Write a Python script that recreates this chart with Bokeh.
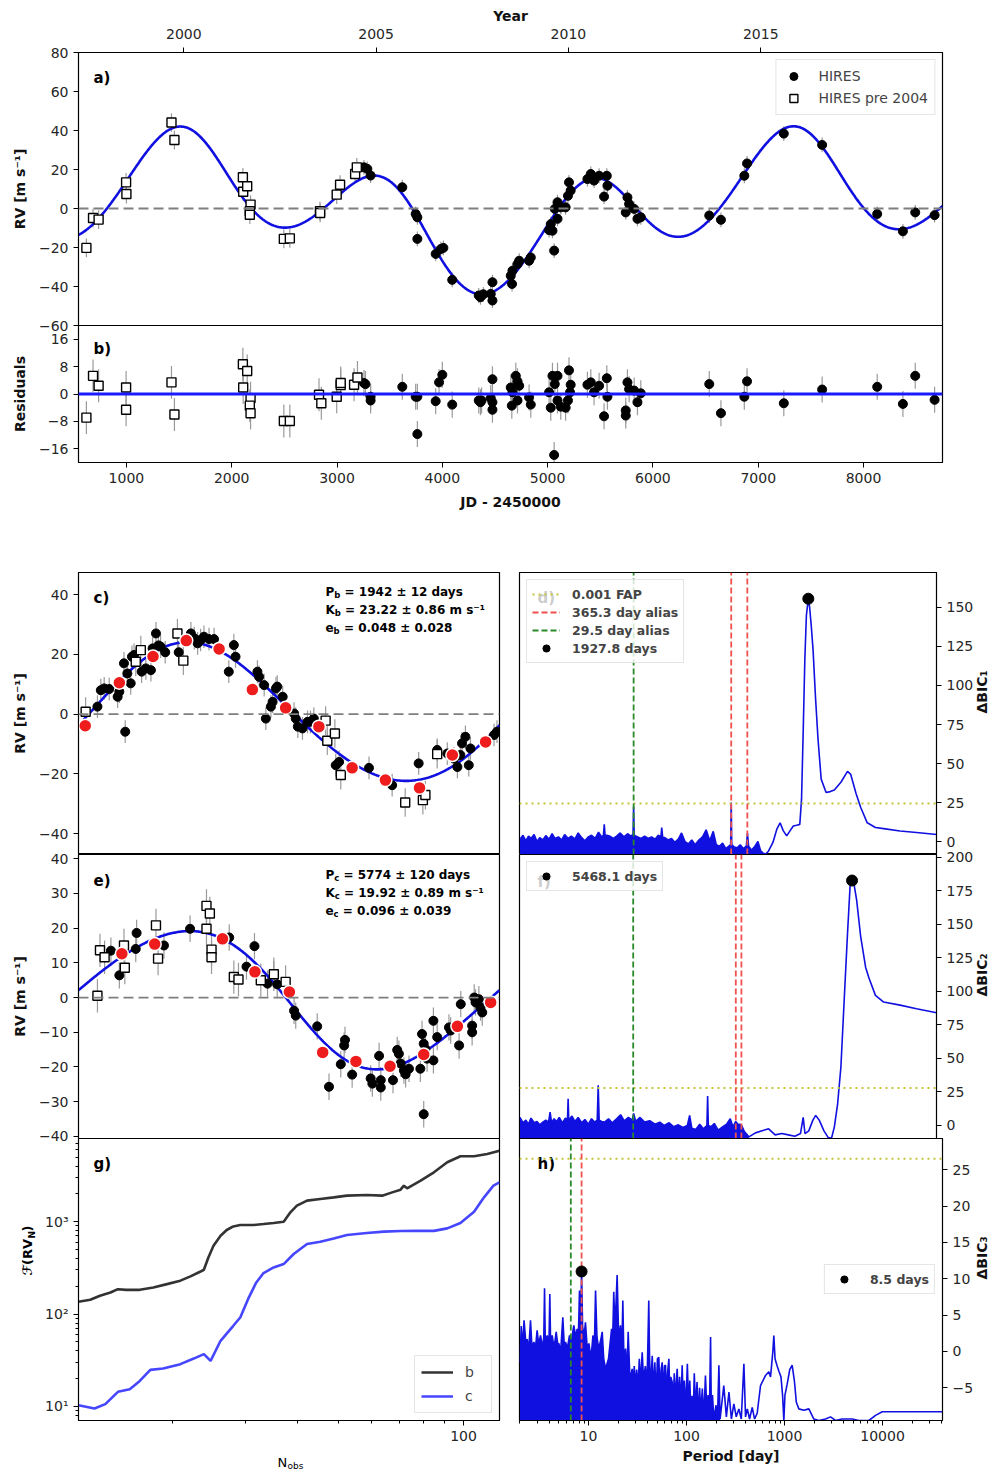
import numpy as np
from bokeh.plotting import figure
from bokeh.layouts import column, row
from bokeh.models import Range1d, LinearAxis, FixedTicker, Label, Span
from bokeh.embed import file_html
from bokeh.resources import INLINE

FONT = "DejaVu Sans"
BLUE = "#1010e0"
ERR_GREY = "#9a9a9a"
ZERO_GREY = "#7f7f7f"
ALIAS_RED = "#f0524f"
ALIAS_GREEN = "#2a8a2a"
FAP_OLIVE = "#c4c43a"
BIN_RED = "#ee1c1c"

# orbital elements quoted in panels c and e
P_B, K_B, E_B = 1942.0, 23.22, 0.048
P_C, K_C, E_C = 5774.0, 19.92, 0.096
# argument of periastron [deg] and time of periastron (JD - 2450000) of the two-planet model
OMEGA_B, TP_B = 45.0, 1725.0
OMEGA_C, TP_C = 150.0, 3990.0
# shape of the folded curves: argument of periastron [deg] and periastron phase
OMEGA_B_FOLD, PHASE_B_PERI = 321.0, 0.16
OMEGA_C_FOLD, PHASE_C_PERI = 114.0, 0.5525
ERR_PRE, ERR_HIRES = 4.8, 3.8

# ---------------- panel a: radial velocities (JD - 2450000, m/s)
pre_jd = [620, 683, 736, 997, 1000, 1428, 1456, 2106, 2109, 2147, 2179, 2172, 2172, 2495, 2552, 2838, 2840, 2997, 3029, 3172, 3188]
pre_rv = [-20.2, -4.9, -5.7, 13.4, 7.4, 44.1, 35.1, 16.0, 8.6, 11.4, 2.0, -1.4, -3.2, -15.6, -15.3, -1.4, -2.3, 7.1, 12.2, 17.7, 21.1]
hires_jd = [3256, 3288, 3319, 3620, 3747, 3763, 3763, 3937, 3985, 4010, 4094, 4346, 4362, 4460, 4476,
            4476, 4390, 4650, 4662, 4666, 4714, 4730, 4824, 4840, 5014, 5030, 5046, 5062, 5068, 5094,
            5094, 5125, 5171, 5193, 5203, 5219, 5378, 5410, 5441, 5489, 5562, 5568, 5536, 5758, 5742,
            5774, 5822, 5853, 5885, 6535, 6646, 6868, 6894, 7243, 7607, 8130, 8374, 8491, 8675]
hires_rv = [21.1, 20.3, 16.9, 10.9, -2.8, -4.5, -15.6, -23.3, -20.8, -20.2, -36.6, -44.6, -45.5, -43.8, -37.8,
            -47.2, -44.0, -34.5, -38.7, -31.9, -28.5, -26.8, -26.8, -25.1, -11.1, -8.0, -11.4, -21.6, -0.2, 3.2,
            -5.3, 0.6, 0.6, 6.5, 13.4, 9.2, 15.1, 17.7, 14.3, 16.8, 16.8, 11.7, 6.1, 5.7, -2.0,
            2.3, -0.2, -5.3, -4.5, -3.6, -5.8, 16.8, 23.1, 38.4, 32.6, -2.8, -11.7, -2.0, -3.4]

# ---------------- panel b: residuals
res_pre_jd = [620, 683, 736, 997, 997, 1428, 1456, 2106, 2147, 2109, 2179, 2172, 2179, 2495, 2552, 2829, 2851, 2997, 3035, 3035, 3162, 3194]
res_pre = [-6.9, 5.3, 2.4, 1.9, -4.6, 3.4, -6.0, 8.7, 6.7, 1.9, -1.2, -3.4, -5.6, -7.9, -7.9, -0.2, -2.7, -0.8, 2.6, 3.2, 2.7, 4.8]
res_hires_jd = [3256, 3270, 3319, 3319, 3620, 3747, 3763, 3763, 3937, 3969, 4000, 4094, 4346, 4362, 4476,
                4476, 4460, 4373, 4476, 4650, 4660, 4666, 4698, 4714, 4714, 4730, 4824, 4840, 5014, 5030,
                5046, 5062, 5068, 5094, 5094, 5125, 5171, 5193, 5203, 5219, 5213, 5378, 5410, 5441, 5489,
                5562, 5568, 5536, 5758, 5742, 5742, 5774, 5822, 5853, 5885, 6535, 6646, 6868, 6894, 7243,
                7607, 8130, 8374, 8491, 8675]
res_hires = [3.2, 2.9, -0.8, -1.9, 2.1, -0.8, -0.8, -11.7, -2.1, 3.4, 5.6, -3.1, -1.9, -2.4, 4.3,
             -4.6, -1.2, -1.9, -2.4, 1.9, -3.4, 0.5, 5.3, 3.7, -1.9, 2.4, -1.0, -3.1, 0.5, -4.0,
             5.3, -17.8, 2.9, 5.3, -1.9, -3.7, -4.0, -1.9, 6.9, 2.7, 0.5, 2.7, 3.4, 0.5, 2.4,
             4.6, -0.8, -6.5, 3.4, -4.8, -6.3, 1.4, 1.0, -2.4, 0.2, 2.9, -5.6, -0.8, 3.7, -2.7,
             1.3, 2.1, -2.9, 5.3, -1.7]

# ---------------- panel c: planet b, phase folded
c_hires_phase = [0.045, 0.053, 0.061, 0.073, 0.093, 0.097, 0.111, 0.108, 0.116, 0.124, 0.127, 0.132, 0.150, 0.160, 0.172,
                 0.176, 0.184, 0.190, 0.195, 0.206, 0.238, 0.267, 0.275, 0.283, 0.290, 0.298, 0.310, 0.322, 0.357, 0.369,
                 0.373, 0.425, 0.429, 0.441, 0.445, 0.457, 0.461, 0.469, 0.472, 0.485, 0.512, 0.516, 0.521, 0.532, 0.544,
                 0.551, 0.559, 0.611, 0.619, 0.690, 0.745, 0.808, 0.852, 0.876, 0.892, 0.900, 0.907, 0.911, 0.919, 0.927,
                 0.931, 0.987, 0.994]
c_hires_rv = [2.5, 8.0, 8.6, 8.4, 5.8, 7.5, -5.9, 17.0, 13.6, 10.3, 19.2, 19.8, 14.2, 15.3, 14.7,
              22.0, 27.0, 23.0, 22.6, 20.7, 20.7, 27.0, 25.4, 23.7, 24.8, 25.9, 25.1, 25.1, 14.2, 23.1,
              19.2, 14.2, 12.5, 9.7, -1.5, 2.5, 4.1, 8.6, 9.2, 5.8, 0.2, -1.5, -4.2, -4.8, -2.6,
              -2.6, -1.5, -17.1, -16.0, -18.0, -23.8, -16.5, -12.0, -13.2, -14.9, -17.7, -13.7, -9.8, -7.6, -17.1,
              -11.5, -7.0, -5.9]
c_pre_phase = [0.017, 0.136, 0.148, 0.235, 0.249, 0.587, 0.591, 0.609, 0.623, 0.776, 0.818, 0.824, 0.852]
c_pre_rv = [0.8, 17.5, 21.4, 27.0, 17.9, -2.2, -8.9, -6.5, -20.4, -29.6, -28.8, -27.1, -13.4]
c_bin_phase = [0.016, 0.097, 0.177, 0.256, 0.334, 0.413, 0.492, 0.571, 0.650, 0.729, 0.810, 0.888, 0.967]
c_bin_rv = [-3.9, 10.5, 19.3, 24.6, 21.8, 8.2, 2.1, -4.2, -18.0, -22.1, -24.7, -13.7, -9.3]

# ---------------- panel e: planet c, phase folded
e_hires_phase = [0.077, 0.097, 0.138, 0.136, 0.203, 0.265, 0.358, 0.418, 0.399, 0.449, 0.464, 0.472, 0.512, 0.516, 0.567,
                 0.595, 0.623, 0.631, 0.633, 0.650, 0.694, 0.698, 0.714, 0.718, 0.718, 0.747, 0.757, 0.761, 0.765, 0.773,
                 0.777, 0.785, 0.812, 0.816, 0.820, 0.824, 0.828, 0.843, 0.843, 0.820, 0.852, 0.880, 0.884, 0.904, 0.908,
                 0.935, 0.935, 0.940, 0.943, 0.951, 0.959, 0.955]
e_hires_rv = [13.5, 6.4, 18.6, 14.0, 15.0, 19.8, 17.3, 14.8, 8.9, 4.0, 6.7, 3.8, -3.8, -5.2, -8.3,
              -25.7, -19.2, -13.8, -12.2, -22.2, -23.3, -24.8, -16.8, -25.9, -23.8, -23.8, -15.1, -16.2, -19.0, -21.0,
              -22.1, -20.5, -20.5, -10.5, -13.3, -14.8, -17.6, -18.1, -6.7, -33.6, -11.4, -8.6, -9.5, -13.8, -1.9,
              -8.1, -10.0, 0.0, -1.4, -0.5, -4.3, -2.9]
e_pre_phase = [0.045, 0.051, 0.062, 0.108, 0.110, 0.184, 0.189, 0.304, 0.312, 0.304, 0.316, 0.316, 0.369, 0.380, 0.433, 0.464, 0.492]
e_pre_rv = [0.5, 13.6, 11.6, 15.0, 8.6, 20.8, 11.2, 26.4, 24.2, 19.8, 13.8, 11.6, 5.9, 5.2, 5.0, 6.7, 4.5]
e_bin_phase = [0.103, 0.181, 0.342, 0.419, 0.501, 0.580, 0.659, 0.740, 0.820, 0.900, 0.979]
e_bin_rv = [12.6, 15.4, 16.9, 7.4, 1.6, -15.8, -18.4, -19.8, -16.4, -8.3, -1.4]

# ---------------- panels d, f, h: BIC periodograms (period [day], delta BIC)
d_noise = [(2.0, 1.5), (2.15, 4.0), (2.3, 0.5), (2.45, 3.5), (2.6, 2.0), (2.8, 4.5), (3.0, 0.0), (3.2, 2.5),
           (3.45, 1.0), (3.7, 3.8), (4.0, 1.5), (4.3, 5.0), (4.6, 2.0), (5.0, 3.0), (5.4, 1.0), (5.8, 4.5),
           (6.3, 2.0), (6.8, 3.5), (7.4, 1.5), (8.0, 5.5), (8.7, 2.5), (9.4, 0.5), (10.2, 3.0), (11.0, 4.0),
           (12.0, 2.0), (13.0, 6.0), (14.0, 3.0), (14.6, 4.0), (14.9, 11.0), (15.2, 4.0), (15.8, 4.0), (17.0, 3.5),
           (18.5, 2.0), (20.0, 3.5), (21.8, 5.5), (23.8, 3.0), (26.0, 5.0), (28.0, 3.5), (29.6, 4.5), (30.0, 22.5),
           (30.4, 4.0), (33.0, 3.0), (36.0, 2.0), (39.0, 3.5), (42.5, 2.0), (46.0, 3.0), (50.0, 1.5), (54.0, 4.0),
           (57.5, 3.0), (58.6, 9.0), (60.0, 2.5), (63.0, 2.5), (68.0, 1.0), (74.0, 2.0), (80.0, -0.5), (87.0, 1.5),
           (94.0, 5.5), (102.0, 0.0), (111.0, -1.5), (120.0, 1.0), (130.0, -2.0), (142.0, 1.0), (155.0, 3.0),
           (169.0, 7.5), (184.0, 0.5), (200.0, 6.5), (215.0, -2.0), (232.0, -3.0), (250.0, -1.0), (270.0, -4.5),
           (290.0, -3.0), (303.0, -2.0), (307.0, 25.0), (311.0, -2.0), (330.0, -3.5), (355.0, -4.0), (380.0, -2.0),
           (410.0, -4.5), (440.0, -3.0), (452.0, 5.5), (465.0, -3.0), (500.0, -5.5), (540.0, -3.0), (580.0, 0.0),
           (620.0, -6.0), (660.0, -7.5)]
d_smooth = [(660.0, -7.5), (700.0, -8.0), (748.0, -6.0), (830.0, -0.6), (910.0, 7.9), (984.0, 12.0), (1060.0, 7.0),
            (1151.0, 3.6), (1250.0, 7.0), (1349.0, 10.0), (1460.0, 10.5), (1574.0, 11.0), (1640.0, 27.0),
            (1706.0, 70.0), (1775.0, 117.0), (1842.0, 145.0), (1927.8, 155.6), (1990.0, 150.0), (2070.0, 138.0),
            (2158.0, 123.0), (2290.0, 92.0), (2427.0, 66.0), (2619.0, 40.0), (2946.0, 31.4), (3250.0, 32.0),
            (3583.0, 33.0), (4191.0, 38.0), (4906.0, 45.0), (5300.0, 43.0), (6000.0, 31.0), (6709.0, 22.0),
            (7850.0, 12.0), (9546.0, 9.0), (11600.0, 8.3), (17170.0, 6.8), (25410.0, 5.8), (41000.0, 4.5)]
f_noise = [(2.0, 6.0), (2.15, 2.0), (2.3, 4.0), (2.45, 1.0), (2.6, 5.5), (2.8, 2.0), (3.0, 3.0), (3.2, 0.5),
           (3.45, 2.5), (3.7, 4.0), (3.95, 2.5), (4.1, 10.0), (4.25, 2.0), (4.5, 5.0), (4.8, 3.0), (5.1, 6.0),
           (5.5, 2.0), (5.9, 5.5), (6.2, 4.0), (6.3, 20.0), (6.4, 4.0), (6.9, 7.0), (7.4, 3.0), (8.0, 6.0),
           (8.7, 2.0), (9.4, 4.5), (10.2, 1.0), (11.0, 5.0), (11.8, 2.5), (12.6, 4.0), (12.9, 30.0), (13.2, 4.0),
           (14.0, 3.0), (15.0, 2.5), (16.5, 5.0), (18.0, 2.0), (20.0, 5.0), (22.0, 8.0), (24.0, 3.5), (26.5, 6.0),
           (29.0, 4.0), (30.0, 9.0), (31.5, 3.0), (35.0, 6.0), (39.0, 2.5), (44.0, 3.5), (50.0, 1.0), (56.0, 2.5),
           (62.0, 0.0), (70.0, 2.0), (78.0, -1.0), (87.0, 0.5), (97.0, -1.5), (108.0, 0.0), (114.0, 7.5),
           (120.0, -2.0), (132.0, -3.0), (145.0, 1.0), (158.0, -2.5), (172.0, 0.0), (175.0, 22.0), (178.0, 0.0),
           (190.0, -1.0), (205.0, 1.5), (225.0, -3.5), (250.0, -1.0), (275.0, 1.0), (300.0, 5.0), (320.0, -1.0),
           (342.0, 3.0), (360.0, 1.0), (391.0, 0.5), (420.0, -4.5), (468.0, -8.5)]
f_smooth = [(468.0, -8.5), (547.0, -5.5), (640.0, -4.0), (748.0, -2.5), (875.0, -7.0), (1023.0, -6.0),
            (1197.0, -7.0), (1400.0, -8.0), (1600.0, -6.0), (1706.0, 6.0), (1780.0, -6.0), (1950.0, -4.0),
            (2150.0, 4.0), (2300.0, 7.5), (2500.0, 4.0), (2800.0, -4.0), (3100.0, -9.0), (3350.0, -9.5),
            (3583.0, -1.2), (3875.0, 16.0), (4191.0, 43.6), (4530.0, 93.0), (4906.0, 143.0), (5212.0, 178.0),
            (5468.1, 182.6), (5728.0, 180.0), (6100.0, 168.0), (6709.0, 141.0), (7550.0, 118.0), (8180.0, 110.0),
            (9546.0, 97.0), (11600.0, 92.0), (17170.0, 89.7), (25410.0, 87.0), (41000.0, 84.0)]
h_noise = [(2.0, -1.5), (2.06, 3.5), (2.13, 0.5), (2.2, 4.3), (2.3, 1.0), (2.37, 1.7), (2.45, 0.0), (2.56, 4.3),
           (2.65, 0.5), (2.77, 1.3), (2.88, 0.5), (2.99, 2.9), (3.1, 1.0), (3.24, 2.2), (3.4, 0.5), (3.5, 2.0),
           (3.56, 8.7), (3.62, 1.5), (3.79, 2.2), (3.95, 1.0), (4.03, 7.9), (4.1, 1.5), (4.26, 2.2), (4.45, 0.5),
           (4.68, 2.7), (4.85, 1.0), (4.98, 1.1), (5.2, 0.0), (5.47, 4.7), (5.65, 1.0), (5.82, 1.3), (6.1, 0.5),
           (6.4, 2.2), (6.7, 1.5), (7.08, 3.6), (7.4, 2.0), (7.66, 3.1), (7.9, 2.5), (8.09, 8.4), (8.3, 3.0),
           (8.5, 11.0), (8.7, 3.5), (9.0, 2.0), (9.31, 4.0), (9.7, 0.5), (10.1, 1.1), (10.6, -1.0), (11.1, 2.2),
           (11.5, 1.0), (11.8, 8.4), (12.2, 2.0), (12.7, 0.4), (13.3, 1.5), (13.8, 2.7), (14.3, -1.0), (14.9, -2.4),
           (16.0, -1.0), (17.2, 3.1), (17.6, 1.0), (18.1, 8.2), (18.6, 3.0), (19.6, 10.5), (20.3, 2.0), (21.2, 3.6),
           (21.8, -1.0), (22.4, 7.0), (23.0, -1.5), (23.9, 0.4), (24.7, -3.0), (25.4, 2.7), (26.5, -4.0), (27.9, -2.4),
           (28.6, -4.5), (29.3, -2.0), (30.0, -4.8), (31.0, -2.5), (32.0, -5.0), (33.0, -1.0), (34.0, -4.5),
           (35.3, -0.1), (36.5, -4.0), (38.0, -2.0), (39.5, -4.5), (40.5, 2.0), (41.2, 7.0), (42.0, -1.0),
           (43.0, -5.0), (44.7, -0.6), (46.0, -5.5), (47.5, -1.5), (49.0, -6.0), (50.5, -1.0), (52.2, -0.8),
           (53.5, -6.0), (55.0, -2.5), (56.5, -1.5), (58.0, -6.5), (59.5, -2.0), (61.1, -1.9), (62.5, -7.0),
           (64.0, -3.0), (66.1, -1.0), (67.5, -6.5), (69.0, -3.5), (71.4, -4.2), (73.0, -7.5), (75.0, -3.0),
           (77.0, -6.5), (80.3, -2.4), (82.5, -7.0), (85.0, -3.5), (87.5, -7.5), (90.3, -1.9), (92.5, -7.0),
           (95.0, -4.0), (98.0, -8.0), (102.0, -1.7), (105.0, -7.5), (108.0, -4.0), (111.0, -8.5), (114.0, -6.1),
           (117.0, -9.0), (120.0, -3.0), (124.0, -8.0), (128.0, -4.2), (132.0, -9.0), (136.0, -5.0), (140.0, -8.5),
           (145.0, -5.1), (150.0, -9.3), (156.0, -3.3), (161.0, -8.0), (166.0, -6.0), (171.0, -9.3), (176.0, 2.0),
           (179.0, -8.0), (184.0, -6.0), (190.0, -9.3), (200.0, -7.4), (207.0, -9.3), (214.0, -1.9), (220.0, -9.3)]
h_tail = [(220.0, -9.3), (240.0, -4.7), (255.0, -9.0), (271.0, -5.6), (287.0, -9.3), (304.0, -7.2), (322.0, -9.0),
          (342.0, -7.9), (362.0, -9.3), (385.0, -1.7), (400.0, -9.0), (417.0, -7.9), (440.0, -9.3), (468.0, -7.7),
          (495.0, -9.3), (526.0, -8.5), (569.0, -4.7), (640.0, -3.3), (692.0, -2.8), (720.0, -3.5), (760.0, 0.0),
          (778.0, 2.2), (800.0, -1.0), (841.0, -2.0), (880.0, -2.8), (920.0, -3.5), (955.0, -6.0), (984.0, -9.5),
          (1010.0, -6.0), (1064.0, -4.5), (1130.0, -2.5), (1197.0, -1.9), (1260.0, -4.0), (1320.0, -7.0),
          (1400.0, -7.9), (1574.0, -8.1), (1771.0, -7.9), (1991.0, -9.3), (2240.0, -9.5), (2619.0, -9.3),
          (2946.0, -9.0), (3313.0, -9.5), (3873.0, -9.3), (4906.0, -9.3), (5728.0, -9.5), (7261.0, -9.5),
          (8486.0, -8.8), (9930.0, -8.3), (17170.0, -8.3), (41000.0, -8.3)]

d_fap, f_fap, h_fap = 24.4, 27.9, 26.5
d_red, d_green = [307.0, 450.6], [30.0]
f_red, f_green = [342.4, 391.4], [29.7]
h_red, h_green = [8.5], [6.6]
d_peak, f_peak, h_peak = (1927.8, 155.6), (5468.1, 182.6), (8.5, 11.0)

# ---------------- panel g: significance versus number of observations
g_n_b = [11.9, 12.7, 13.4, 14.2, 14.8, 15.5, 16.7, 18.0, 19.4, 20.9, 22.1, 23.3, 23.8, 24.4, 25.1, 26.1, 27.0, 28.0,
         29.1, 31.3, 33.1, 35.0, 37.0, 38.4, 39.8, 42.1, 45.3, 48.8, 52.5, 58.6, 63.8, 67.4, 70.6, 71.9, 73.2, 78.9,
         84.9, 91.4, 98.3, 106, 114, 122]
g_f_b = [136, 143, 158, 171, 186, 183, 183, 194, 211, 230, 256, 287, 302, 410, 550, 705, 813, 889, 921, 921, 944, 968,
         1000, 1262, 1490, 1690, 1762, 1834, 1913, 1945, 1913, 2076, 2221, 2455, 2295, 2780, 3426, 4399, 5106, 5106,
         5409, 5875]
g_n_c = [11.9, 13.0, 13.8, 14.2, 14.8, 15.8, 16.7, 17.7, 19.0, 20.9, 22.5, 23.8, 24.7, 26.1, 28.0, 29.1, 30.4, 31.8,
         33.1, 35.0, 37.0, 39.1, 42.1, 45.3, 48.8, 52.5, 58.6, 64.4, 70.6, 77.3, 84.9, 91.4, 98.3, 106, 112, 118, 122]
g_f_c = [10.3, 9.5, 10.6, 12.0, 14.4, 15.4, 18.9, 24.9, 25.8, 28.7, 33.0, 36.9, 31.2, 51.4, 74.7, 91.8, 146, 220, 278,
         320, 348, 447, 573, 607, 659, 717, 755, 780, 793, 795, 795, 846, 968, 1283, 1834, 2455, 2667]

YEAR_TICKS = [2000, 2005, 2010, 2015]
JD_LO, JD_HI = 545.0, 8750.0


def kepler_rv(t, period, k, ecc, omega_deg, tp):
    """Radial velocity of a Keplerian orbit."""
    omega = np.radians(omega_deg)
    m = 2 * np.pi * (np.asarray(t, dtype=float) - tp) / period
    ea = np.array(m, dtype=float)
    for _ in range(40):
        ea = m + ecc * np.sin(ea)
    nu = 2 * np.arctan2(np.sqrt(1 + ecc) * np.sin(ea / 2), np.sqrt(1 - ecc) * np.cos(ea / 2))
    return k * (np.cos(nu + omega) + ecc * np.cos(omega))


def jd_to_year(jd):
    return 2000.0 + (jd - 1545.0) / 365.25


def style_axis(ax):
    ax.major_label_text_font = FONT
    ax.major_label_text_font_size = "14px"
    ax.major_label_text_color = "#262626"
    ax.axis_label_text_font = FONT
    ax.axis_label_text_font_size = "14px"
    ax.axis_label_text_font_style = "bold"
    ax.axis_label_text_color = "#111111"
    ax.axis_line_color = "black"
    ax.major_tick_line_color = "black"
    ax.major_tick_out = 5
    ax.major_tick_in = 0
    ax.minor_tick_out = 3
    ax.minor_tick_in = 0
    ax.major_label_standoff = 5
    ax.axis_label_standoff = 8


def make_fig(width, height, x_range, y_range, borders, x_loc=None, y_loc="left", x_type="linear", y_type="linear"):
    p = figure(width=width, height=height, x_range=x_range, y_range=y_range,
               x_axis_type=x_type, y_axis_type=y_type, x_axis_location=x_loc, y_axis_location=y_loc,
               output_backend="svg", toolbar_location=None,
               min_border_left=borders[0], min_border_right=borders[1],
               min_border_top=borders[2], min_border_bottom=borders[3])
    p.outline_line_color = "black"
    p.outline_line_width = 1.2
    p.outline_line_alpha = 1.0
    p.grid.visible = False
    p.background_fill_color = "white"
    p.border_fill_color = "white"
    for ax in p.axis:
        style_axis(ax)
        ax.minor_tick_line_color = None
    return p


def text_fig(width, height):
    """A transparent strip whose whole area is the frame, used for composite axis titles."""
    p = figure(width=width, height=height, x_range=Range1d(0, width), y_range=Range1d(0, height),
               x_axis_location=None, y_axis_location=None, output_backend="svg", toolbar_location=None,
               min_border_left=0, min_border_right=0, min_border_top=0, min_border_bottom=0)
    p.outline_line_color = None
    p.grid.visible = False
    p.background_fill_alpha = 0
    p.border_fill_alpha = 0
    return p


def tag(p, text, x, y, size="15px", bold=True, level="annotation", angle=0.0, color="black"):
    p.add_layout(Label(x=x, y=y, x_units="screen", y_units="screen", text=text, text_font=FONT,
                       text_font_size=size, text_font_style="bold" if bold else "normal",
                       text_baseline="middle", text_align="left", angle=angle, text_color=color, level=level))


def param_block(p, sub, rows, x0, y0, dy=18):
    sym_w = {"P": 8.8, "K": 9.3, "e": 8.1}
    sub_w = {"b": 6.1, "c": 5.0}
    for i, (sym, rest) in enumerate(rows):
        y = y0 - i * dy
        tag(p, sym, x0, y, size="12px")
        tag(p, sub, x0 + sym_w[sym], y - 3, size="8.5px")
        tag(p, rest, x0 + sym_w[sym] + sub_w[sub] + 4.2, y, size="12px")


def errorbars(p, x, y, err):
    y = np.asarray(y, float)
    p.segment(x0=x, y0=y - err, x1=x, y1=y + err, line_color=ERR_GREY, line_width=1.2)


def points(p, x, y, square=False, legend=None):
    kw = {} if legend is None else {"legend_label": legend}
    if square:
        p.scatter(x, y, marker="square", size=9, fill_color="white", line_color="black", line_width=1.4, **kw)
    else:
        p.scatter(x, y, marker="circle", size=9, fill_color="black", line_color="black", **kw)


def zero_line(p, color=ZERO_GREY, width=1.8, dash="10 5"):
    p.add_layout(Span(location=0, dimension="width", line_color=color, line_width=width, line_dash=dash))


# ---------------- a) RV time series with two-planet model
jd_range = Range1d(JD_LO, JD_HI)
pa = make_fig(1001, 333, jd_range, Range1d(-60, 80), (78, 59, 52, 8))
pa.extra_x_ranges = {"year": Range1d(jd_to_year(JD_LO), jd_to_year(JD_HI))}
year_axis = LinearAxis(x_range_name="year", ticker=FixedTicker(ticks=YEAR_TICKS), axis_label="Year")
style_axis(year_axis)
year_axis.minor_tick_line_color = None
year_axis.major_label_standoff = 9
year_axis.axis_label_standoff = 2
pa.add_layout(year_axis, "above")
pa.yaxis.ticker = FixedTicker(ticks=[-60, -40, -20, 0, 20, 40, 60, 80])
pa.yaxis.axis_label = "RV [m s⁻¹]"
zero_line(pa)
t_model = np.linspace(JD_LO, JD_HI, 1200)
rv_model = kepler_rv(t_model, P_B, K_B, E_B, OMEGA_B, TP_B) + kepler_rv(t_model, P_C, K_C, E_C, OMEGA_C, TP_C)
errorbars(pa, pre_jd, pre_rv, ERR_PRE)
errorbars(pa, hires_jd, hires_rv, ERR_HIRES)
pa.line(t_model, rv_model, line_color=BLUE, line_width=2.6)
points(pa, hires_jd, hires_rv, legend="HIRES")
points(pa, pre_jd, pre_rv, square=True, legend="HIRES pre 2004")
pa.legend.location = "top_right"
pa.legend.label_text_font = FONT
pa.legend.label_text_font_size = "14px"
pa.legend.border_line_color = "#cccccc"
pa.legend.background_fill_alpha = 0.85
pa.legend.margin = 7
pa.legend.padding = 6
pa.legend.spacing = 2
pa.legend.glyph_width = 22
pa.legend.label_standoff = 14
tag(pa, "a)", 15, 248)

# ---------------- b) residuals (slides 8 px up under the bottom border of a)
pb = make_fig(1001, 247, jd_range, Range1d(-20, 20), (78, 59, 0, 110), x_loc="below")
pb.margin = (-8, 0, 0, 0)
pb.border_fill_alpha = 0
pb.xaxis.ticker = FixedTicker(ticks=[1000, 2000, 3000, 4000, 5000, 6000, 7000, 8000])
pb.xaxis.axis_label = "JD - 2450000"
pb.yaxis.ticker = FixedTicker(ticks=[-16, -8, 0, 8, 16])
pb.yaxis.axis_label = "Residuals"
zero_line(pb, color="#1a1aff", width=3.0, dash="solid")
errorbars(pb, res_pre_jd, res_pre, ERR_PRE)
errorbars(pb, res_hires_jd, res_hires, ERR_HIRES)
points(pb, res_hires_jd, res_hires)
points(pb, res_pre_jd, res_pre, square=True)
tag(pb, "b)", 15, 114)

# ---------------- c) planet b folded
phase = np.linspace(0, 1, 400)
pc = make_fig(509, 282, Range1d(0, 1), Range1d(-47.0, 47.4), (78, 10, 0, 0))
pc.yaxis.ticker = FixedTicker(ticks=[-40, -20, 0, 20, 40])
pc.yaxis.axis_label = "RV [m s⁻¹]"
zero_line(pc)
errorbars(pc, c_hires_phase, c_hires_rv, ERR_HIRES)
errorbars(pc, c_pre_phase, c_pre_rv, ERR_PRE)
pc.line(phase, kepler_rv(phase * P_B, P_B, K_B, E_B, OMEGA_B_FOLD, PHASE_B_PERI * P_B), line_color=BLUE, line_width=2.6)
points(pc, c_hires_phase, c_hires_rv)
points(pc, c_pre_phase, c_pre_rv, square=True)
pc.scatter(c_bin_phase, c_bin_rv, marker="circle", size=13, fill_color=BIN_RED, line_color="white", line_width=1.5)
tag(pc, "c)", 15, 257)
param_block(pc, "b", [("P", "= 1942 ± 12 days"), ("K", "= 23.22 ± 0.86 m s⁻¹"), ("e", "= 0.048 ± 0.028")], 247, 263)

# ---------------- e) planet c folded (transparent 8 px borders overlap the rows above and below)
pe = make_fig(509, 300, Range1d(0, 1), Range1d(-40.6, 41.2), (78, 10, 8, 8))
pe.border_fill_alpha = 0
pe.yaxis.ticker = FixedTicker(ticks=[-40, -30, -20, -10, 0, 10, 20, 30, 40])
pe.yaxis.axis_label = "RV [m s⁻¹]"
zero_line(pe)
errorbars(pe, e_hires_phase, e_hires_rv, ERR_HIRES)
errorbars(pe, e_pre_phase, e_pre_rv, ERR_PRE)
pe.line(phase, kepler_rv(phase * P_C, P_C, K_C, E_C, OMEGA_C_FOLD, PHASE_C_PERI * P_C), line_color=BLUE, line_width=2.6)
points(pe, e_hires_phase, e_hires_rv)
points(pe, e_pre_phase, e_pre_rv, square=True)
pe.scatter(e_bin_phase, e_bin_rv, marker="circle", size=13, fill_color=BIN_RED, line_color="white", line_width=1.5)
tag(pe, "e)", 15, 258)
param_block(pe, "c", [("P", "= 5774 ± 120 days"), ("K", "= 19.92 ± 0.89 m s⁻¹"), ("e", "= 0.096 ± 0.039")], 247, 264)

# ---------------- periodograms
per_range = Range1d(1.977, 40900.0)


def periodogram(p, noise, rest, fap, reds, greens, peak, peak_text, tag_text, with_alias_legend, legend_loc):
    tag(p, tag_text, 18, 257, level="underlay")
    y_lo, y_hi = p.y_range.start, p.y_range.end
    nx = [q for q, _ in noise]
    ny = [v for _, v in noise]
    p.varea(x=nx, y1=[y_lo] * len(nx), y2=ny, fill_color=BLUE)
    p.line(nx + [q for q, _ in rest[1:]], ny + [v for _, v in rest[1:]], line_color=BLUE, line_width=1.6)

    def lab(text):
        return {"legend_label": text} if with_alias_legend else {}

    p.line([per_range.start, per_range.end], [fap, fap], line_color=FAP_OLIVE, line_width=2, line_dash="2 4",
           **lab("0.001 FAP"))
    p.multi_line([[x, x] for x in reds], [[y_lo, y_hi]] * len(reds), line_color=ALIAS_RED, line_width=1.8,
                 line_dash="6 3", **lab("365.3 day alias"))
    p.multi_line([[x, x] for x in greens], [[y_lo, y_hi]] * len(greens), line_color=ALIAS_GREEN, line_width=1.8,
                 line_dash="6 3", **lab("29.5 day alias"))
    p.scatter([peak[0]], [peak[1]], marker="circle", size=11, color="black", legend_label=peak_text)
    lg = p.legend[0]
    lg.location = legend_loc
    lg.label_text_font = FONT
    lg.label_text_font_size = "12.5px"
    lg.label_text_font_style = "bold"
    lg.border_line_color = "#cccccc"
    lg.background_fill_alpha = 0.8
    lg.margin = 7
    lg.padding = 5
    lg.spacing = 0
    lg.glyph_width = 28
    lg.glyph_height = 18
    lg.label_standoff = 12


pd_ = make_fig(492, 282, per_range, Range1d(-8.3, 172.4), (10, 59, 0, 0), y_loc="right", x_type="log")
pd_.yaxis.ticker = FixedTicker(ticks=[0, 25, 50, 75, 100, 125, 150])
pd_.yaxis.axis_label = "ΔBIC₁"
periodogram(pd_, d_noise, d_smooth, d_fap, d_red, d_green, d_peak, "1927.8 days", "d)", True, "top_left")

pf = make_fig(492, 300, per_range, Range1d(-9.7, 202.0), (10, 59, 8, 8), y_loc="right", x_type="log")
pf.border_fill_alpha = 0
pf.yaxis.ticker = FixedTicker(ticks=[0, 25, 50, 75, 100, 125, 150, 175, 200])
pf.yaxis.axis_label = "ΔBIC₂"
periodogram(pf, f_noise, f_smooth, f_fap, f_red, f_green, f_peak, "5468.1 days", "f)", False, "top_left")

ph = make_fig(492, 334, per_range, Range1d(-9.5, 29.3), (10, 59, 0, 52), x_loc="below", y_loc="right", x_type="log")
ph.border_fill_alpha = 0
ph.yaxis.ticker = FixedTicker(ticks=[-5, 0, 5, 10, 15, 20, 25])
ph.yaxis.axis_label = "ΔBIC₃"
ph.xaxis.ticker = FixedTicker(ticks=[10, 100, 1000, 10000],
                              minor_ticks=[2, 3, 4, 5, 6, 7, 8, 9, 20, 30, 40, 50, 60, 70, 80, 90,
                                           200, 300, 400, 500, 600, 700, 800, 900,
                                           2000, 3000, 4000, 5000, 6000, 7000, 8000, 9000, 20000, 30000, 40000])
ph.xaxis.major_label_overrides = {10: "10", 100: "100", 1000: "1000", 10000: "10000"}
ph.xaxis.minor_tick_line_color = "black"
ph.xaxis.axis_label = "Period [day]"
ph.xaxis.axis_label_standoff = 4
periodogram(ph, h_noise, h_tail, h_fap, h_red, h_green, h_peak, "8.5 days", "h)", False, "right")

for p in (pd_, pf, ph):
    p.yaxis.axis_label_orientation = np.pi / 2
    p.yaxis.axis_label_standoff = 6

# ---------------- g) significance growth
pg = make_fig(469, 312, Range1d(11.9, 122.0), Range1d(7.05, 7950.0), (38, 10, 0, 30),
              x_loc="below", x_type="log", y_type="log")
pg.border_fill_alpha = 0
pg.xaxis.ticker = FixedTicker(ticks=[100], minor_ticks=[20, 30, 40, 50, 60, 70, 80, 90, 200])
pg.xaxis.major_label_overrides = {100: "100"}
pg.xaxis.minor_tick_line_color = "black"
pg.yaxis.ticker = FixedTicker(ticks=[10, 100, 1000],
                              minor_ticks=[8, 9, 20, 30, 40, 50, 60, 70, 80, 90, 200, 300, 400, 500, 600, 700,
                                           800, 900, 2000, 3000, 4000, 5000, 6000, 7000])
pg.yaxis.major_label_overrides = {10: "10¹", 100: "10²", 1000: "10³"}
pg.yaxis.minor_tick_line_color = "black"
pg.line(g_n_b, g_f_b, line_color="#333333", line_width=2.6, legend_label="b")
pg.line(g_n_c, g_f_c, line_color="#4646ff", line_width=2.6, legend_label="c")
pg.legend.location = "bottom_right"
pg.legend.label_text_font = FONT
pg.legend.label_text_font_size = "14px"
pg.legend.border_line_color = "#cccccc"
pg.legend.background_fill_alpha = 0.85
pg.legend.margin = 7
pg.legend.padding = 6
pg.legend.spacing = 4
pg.legend.glyph_width = 32
pg.legend.label_standoff = 12
tag(pg, "g)", 15, 257)

# axis titles of g with sub-scripted parts
g_ytitle = text_fig(40, 312)
tag(g_ytitle, "ℱ(RV", 27, 145, size="13px", angle=np.pi / 2)
tag(g_ytitle, "N", 31, 182, size="9px", angle=np.pi / 2)
tag(g_ytitle, ")", 27, 189, size="13px", angle=np.pi / 2)
g_xtitle = text_fig(509, 22)
tag(g_xtitle, "N", 277, 10, size="13px", bold=False)
tag(g_xtitle, "obs", 287, 7, size="9px", bold=False)

middle = row(pe, pf)
middle.margin = (-8, 0, 0, 0)
bottom = row(column(row(g_ytitle, pg), g_xtitle), ph)
bottom.margin = (-8, 0, 0, 0)

layout = column(pa, pb, row(pc, pd_), middle, bottom, spacing=0)
open("out.html", "w").write(file_html(layout, INLINE))
